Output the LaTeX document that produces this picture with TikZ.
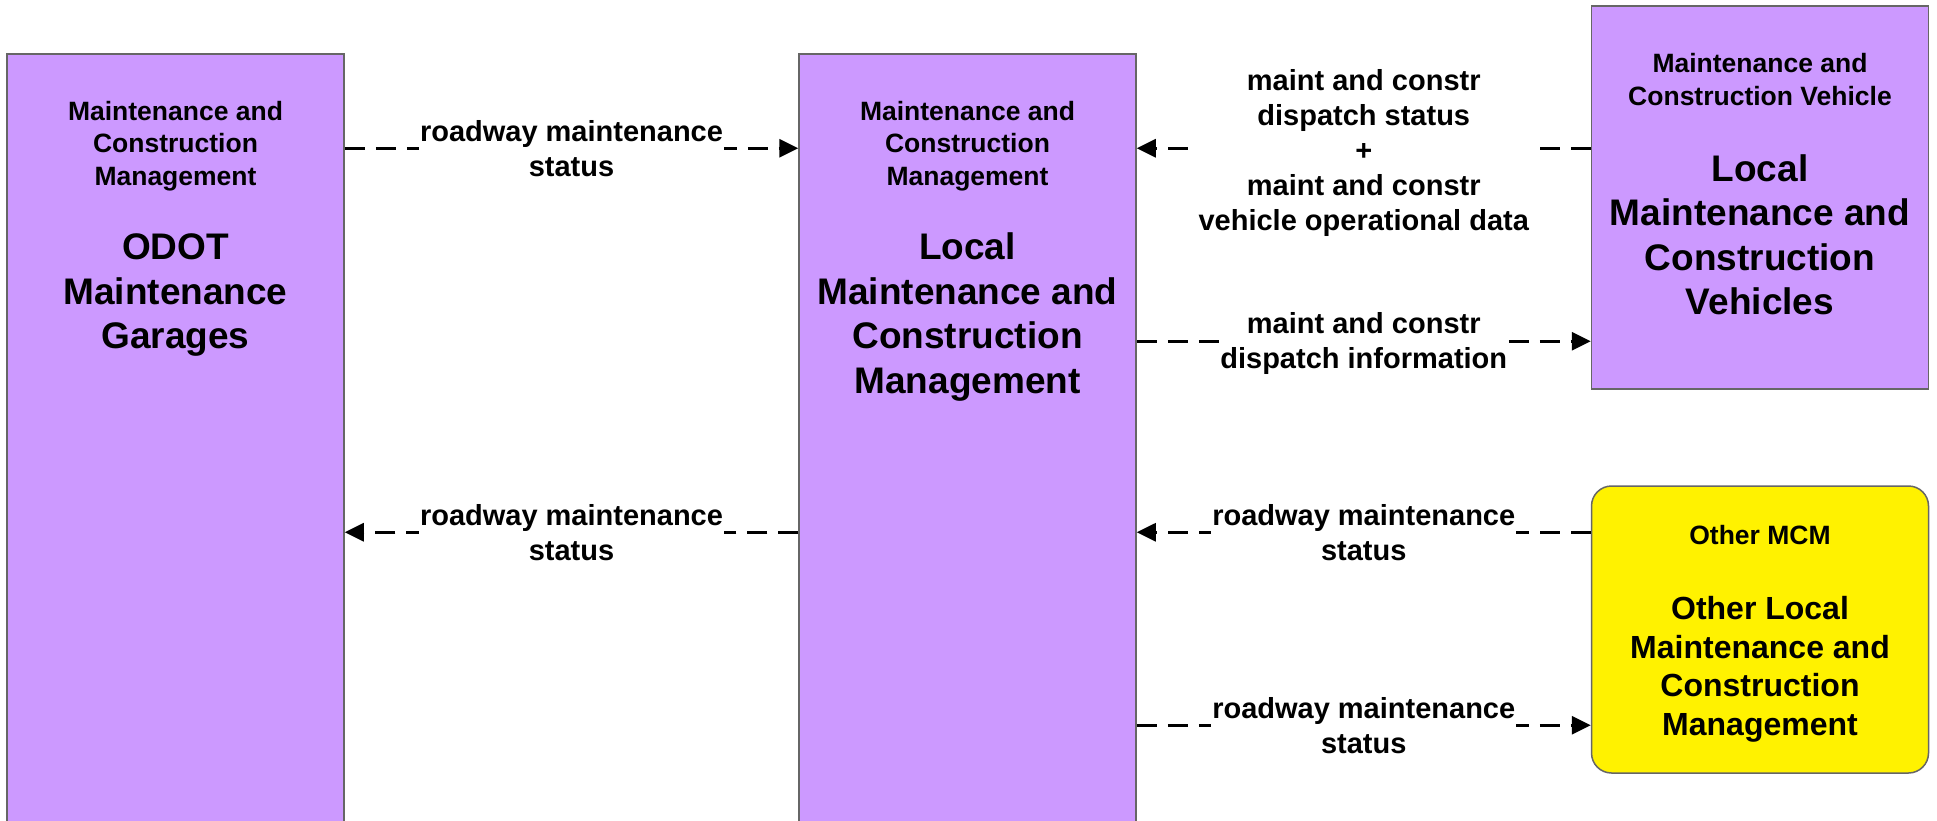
\documentclass[tikz,border=0pt]{standalone}
\usepackage{fontspec}
\setmainfont{Liberation Sans}
\usetikzlibrary{arrows.meta}
\definecolor{archpurple}{RGB}{204,153,255}

\begin{document}
\begin{tikzpicture}[x=1pt,y=-1pt,
  sysbox/.style={draw=black!60, line width=1.5pt, fill=archpurple, minimum width=337pt},
  head/.style={align=center, font=\bfseries\fontsize{26.5}{32.5}\selectfont},
  big/.style={align=center, font=\bfseries\fontsize{37}{44.5}\selectfont},
  flow/.style={line width=2.8pt, dash pattern=on 20pt off 11pt, -{Triangle[length=19pt,width=18pt]}},
  lbl/.style={fill=white, inner sep=1pt, align=center, font=\bfseries\fontsize{29}{35}\selectfont}]
\useasboundingbox (0,0) rectangle (1937,820);
\node [sysbox, minimum height=850pt] (odot) at (175.5,479) {};
\node [sysbox, minimum height=850pt] (lmcm) at (967.5,479) {};
\node [sysbox, minimum height=383pt] (mcv) at (1760,197.5) {};
\node [sysbox, minimum height=287pt, fill=yellow, rounded corners=20pt] (omcm) at (1760,629.5) {};
\node [head] (odothead) at (175.5,146) {Maintenance and\\Construction\\Management};
\node [big] (odotname) at (175.5,295) {ODOT\\Maintenance\\Garages};
\node [head] (lmcmhead) at (967.5,146) {Maintenance and\\Construction\\Management};
\node [big] (lmcmname) at (967.5,317) {Local\\Maintenance and\\Construction\\Management};
\node [head] (mcvhead) at (1760,79.5) {Maintenance and\\Construction Vehicle};
\node [big] (mcvname) at (1760,235) {Local\\Maintenance and\\Construction\\Vehicles};
\node [head] (omcmhead) at (1760,535) {Other MCM};
\node [big, font=\bfseries\fontsize{32}{38.5}\selectfont] (omcmname) at (1760,669.5) {Other Local\\Maintenance and\\Construction\\Management};
\draw [flow] ([yshift=-95pt]odot.north east) -- node [lbl] {roadway maintenance\\status} ([yshift=-95pt]lmcm.north west);
\draw [flow] ([yshift=-479pt]lmcm.north west) -- node [lbl] {roadway maintenance\\status} ([yshift=-479pt]odot.north east);
\draw [flow] ([yshift=-143pt]mcv.north west) -- node [lbl, yshift=-4.5pt] {maint and constr\\dispatch status\\+\\maint and constr\\vehicle operational data} ([yshift=-95pt]lmcm.north east);
\draw [flow] ([yshift=-288pt]lmcm.north east) -- node [lbl, yshift=-2.5pt] {maint and constr\\dispatch information} ([yshift=-336pt]mcv.north west);
\draw [flow] ([yshift=-47pt]omcm.north west) -- node [lbl] {roadway maintenance\\status} ([yshift=-479pt]lmcm.north east);
\draw [flow] ([yshift=-672pt]lmcm.north east) -- node [lbl] {roadway maintenance\\status} ([yshift=-240pt]omcm.north west);
\end{tikzpicture}
\end{document}
